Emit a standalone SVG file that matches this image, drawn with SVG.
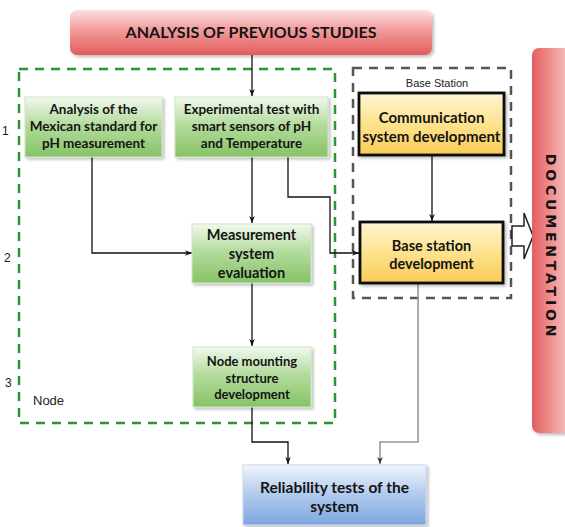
<svg xmlns="http://www.w3.org/2000/svg" width="565" height="527" viewBox="0 0 565 527">
<defs>
<linearGradient id="gRed" x1="0" y1="0" x2="0" y2="1">
<stop offset="0" stop-color="#fbe0e0"/><stop offset="0.45" stop-color="#f29a9a"/><stop offset="1" stop-color="#e25c5c"/>
</linearGradient>
<linearGradient id="gDoc" x1="0" y1="0" x2="1" y2="0">
<stop offset="0" stop-color="#e45e5e"/><stop offset="0.5" stop-color="#f29a9a"/><stop offset="1" stop-color="#fbd8d8"/>
</linearGradient>
<linearGradient id="gGreen" x1="0" y1="0" x2="0" y2="1">
<stop offset="0" stop-color="#f2f9ee"/><stop offset="0.45" stop-color="#b5dc9f"/><stop offset="1" stop-color="#86c366"/>
</linearGradient>
<linearGradient id="gYellow" x1="0" y1="0" x2="0" y2="1">
<stop offset="0" stop-color="#fff6d2"/><stop offset="0.5" stop-color="#fde28e"/><stop offset="1" stop-color="#f9cc55"/>
</linearGradient>
<linearGradient id="gBlue" x1="0" y1="0" x2="0" y2="1">
<stop offset="0" stop-color="#f2f6fc"/><stop offset="0.45" stop-color="#b5cdee"/><stop offset="1" stop-color="#7ea6de"/>
</linearGradient>
<filter id="sh" x="-10%" y="-10%" width="130%" height="140%">
<feDropShadow dx="2" dy="2" stdDeviation="1.5" flood-color="#000" flood-opacity="0.25"/>
</filter>
<marker id="ah" viewBox="0 0 10 10" refX="10" refY="5" markerWidth="7" markerHeight="7" markerUnits="userSpaceOnUse" orient="auto">
<path d="M0,1 L10,5 L0,9 L3,5 z" fill="#111"/>
</marker>
<marker id="ahg" viewBox="0 0 10 10" refX="10" refY="5" markerWidth="7" markerHeight="7" markerUnits="userSpaceOnUse" orient="auto">
<path d="M0,1 L10,5 L0,9 L3,5 z" fill="#333"/>
</marker>
</defs>
<style>
.t{font-family:Lato,"Liberation Sans",sans-serif;font-weight:bold;fill:#141414;text-anchor:middle}
.r{font-family:"Liberation Sans",Arial,sans-serif;fill:#222}
.c{fill:none;stroke:#111;stroke-width:1.3}
.cg{fill:none;stroke:#999;stroke-width:1.6}
.green{fill:url(#gGreen);stroke:#cfe6c2;stroke-width:1;filter:url(#sh)}
.yellow{fill:url(#gYellow);stroke:#111;stroke-width:2.8;filter:url(#sh)}
.doc{font-family:"DejaVu Sans",sans-serif;font-weight:bold;fill:#141414;text-anchor:middle}
</style>
<rect width="565" height="527" fill="#ffffff"/>

<!-- containers -->
<g id="node-group">
<rect x="19" y="69" width="316" height="354" fill="none" stroke="#2e952e" stroke-width="2.5" stroke-dasharray="9,7"/>
<text class="r" x="33" y="405" font-size="13">Node</text>
</g>
<g id="base-station-group">
<rect x="353" y="68" width="158" height="230" fill="none" stroke="#555" stroke-width="2.5" stroke-dasharray="9,7"/>
<text class="r" x="437" y="87" font-size="11" text-anchor="middle">Base Station</text>
</g>

<g id="step-labels">
<text class="r" x="2" y="135" font-size="12">1</text>
<text class="r" x="4" y="262" font-size="12">2</text>
<text class="r" x="5" y="387" font-size="12">3</text>
</g>

<!-- connectors -->
<g id="connectors">
<path class="c" d="M252,55 V96" marker-end="url(#ah)"/>
<path class="c" d="M92,157 V253 H192" marker-end="url(#ah)"/>
<path class="c" d="M252,157 V223" marker-end="url(#ah)"/>
<path class="c" d="M288,157 V197 H330 V253 H359" marker-end="url(#ah)"/>
<path class="c" d="M432,155 V221" marker-end="url(#ah)"/>
<path class="c" d="M252,283 V346" marker-end="url(#ah)"/>
<path class="c" d="M252,407 V442 H288 V464" marker-end="url(#ah)"/>
<path class="cg" d="M418,283 V442 H380 V464" marker-end="url(#ahg)"/>
<path d="M512,226 H524 V213 L533,236 L524,259 V246 H512 Z" fill="#fff" stroke="#222" stroke-width="1.5"/>
</g>

<!-- nodes -->
<g id="analysis-previous">
<rect x="70" y="10" width="362" height="45" rx="7" fill="url(#gRed)" filter="url(#sh)"/>
<text class="t" x="251" y="38" font-size="16">ANALYSIS OF PREVIOUS STUDIES</text>
</g>

<g id="documentation">
<rect x="532" y="48" width="45" height="385" rx="7" fill="url(#gDoc)" filter="url(#sh)"/>
<text class="doc" transform="translate(546,247) rotate(90)" font-size="14" letter-spacing="3.8">DOCUMENTATION</text>
</g>

<g id="mexican-standard">
<rect class="green" x="25" y="97" width="137" height="60"/>
<text class="t" font-size="13.5"><tspan x="93.5" y="114">Analysis of the</tspan><tspan x="93.5" y="131">Mexican standard for</tspan><tspan x="93.5" y="148">pH measurement</tspan></text>
</g>

<g id="experimental-test">
<rect class="green" x="175" y="97" width="153" height="60"/>
<text class="t" font-size="13.5"><tspan x="251.5" y="114">Experimental test with</tspan><tspan x="251.5" y="131">smart sensors of pH</tspan><tspan x="251.5" y="148">and Temperature</tspan></text>
</g>

<g id="communication">
<rect class="yellow" x="359" y="93" width="145" height="62"/>
<text class="t" font-size="15"><tspan x="431.5" y="123">Communication</tspan><tspan x="431.5" y="142">system development</tspan></text>
</g>

<g id="measurement">
<rect class="green" x="192" y="224" width="119" height="59"/>
<text class="t" font-size="14.5"><tspan x="251.5" y="240">Measurement</tspan><tspan x="251.5" y="259">system</tspan><tspan x="251.5" y="278">evaluation</tspan></text>
</g>

<g id="base-station">
<rect class="yellow" x="360" y="222" width="143" height="61"/>
<text class="t" font-size="14.5"><tspan x="431.5" y="251">Base station</tspan><tspan x="431.5" y="269">development</tspan></text>
</g>

<g id="node-mounting">
<rect class="green" x="193" y="347" width="118" height="60"/>
<text class="t" font-size="13"><tspan x="252" y="366">Node mounting</tspan><tspan x="252" y="383">structure</tspan><tspan x="252" y="399">development</tspan></text>
</g>

<g id="reliability">
<rect x="243" y="465" width="183" height="60" fill="url(#gBlue)" stroke="#c9d8ef" stroke-width="1" filter="url(#sh)"/>
<text class="t" font-size="15.5"><tspan x="334.5" y="493">Reliability tests of the</tspan><tspan x="334.5" y="512">system</tspan></text>
</g>
</svg>
